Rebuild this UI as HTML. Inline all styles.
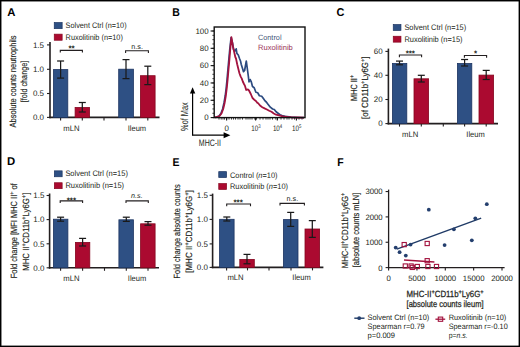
<!DOCTYPE html>
<html><head><meta charset="utf-8"><style>
html,body{margin:0;padding:0;background:#fff;}
body{width:520px;height:347px;overflow:hidden;font-family:"Liberation Sans", sans-serif;}
svg{display:block;}
</style></head><body>
<svg width="520" height="347" viewBox="0 0 520 347" text-rendering="geometricPrecision" font-family='"Liberation Sans", sans-serif'>
<rect x="0" y="0" width="520" height="347" fill="#fff"/>
<text x="7.3" y="16.4" font-size="11.3" fill="#000" textLength="8.2" lengthAdjust="spacingAndGlyphs" font-weight="bold">A</text>
<rect x="54.25" y="22.55" width="7.90" height="6.10" fill="#2e5084" stroke="#1c3461" stroke-width="0.7"/>
<text x="65.6" y="28.0" font-size="8" fill="#231f20" textLength="61" lengthAdjust="spacingAndGlyphs">Solvent Ctrl (n=10)</text>
<rect x="54.25" y="34.15" width="7.90" height="6.10" fill="#ab0a30" stroke="#85061f" stroke-width="0.7"/>
<text x="65.6" y="39.5" font-size="8" fill="#231f20" textLength="57.3" lengthAdjust="spacingAndGlyphs">Ruxolitinib (n=10)</text>
<text transform="translate(16.0,81.5) rotate(-90)" x="0" y="0" font-size="9" fill="#231f20" stroke="#231f20" stroke-width="0.15" text-anchor="middle" textLength="92" lengthAdjust="spacingAndGlyphs">Absolute counts neutrophils</text>
<text transform="translate(26.6,81.5) rotate(-90)" x="0" y="0" font-size="9" fill="#231f20" stroke="#231f20" stroke-width="0.15" text-anchor="middle" textLength="41.5" lengthAdjust="spacingAndGlyphs">[fold change]</text>
<line x1="50" y1="42" x2="50" y2="118.2" stroke="#231f20" stroke-width="1.6"/>
<line x1="49.2" y1="117.4" x2="159.5" y2="117.4" stroke="#231f20" stroke-width="1.6"/>
<line x1="47" y1="44.9" x2="50" y2="44.9" stroke="#231f20" stroke-width="1.1"/>
<text x="44" y="47.75" font-size="8" fill="#231f20" text-anchor="end">1.5</text>
<line x1="47" y1="69.3" x2="50" y2="69.3" stroke="#231f20" stroke-width="1.1"/>
<text x="44" y="72.14999999999999" font-size="8" fill="#231f20" text-anchor="end">1.0</text>
<line x1="47" y1="93.5" x2="50" y2="93.5" stroke="#231f20" stroke-width="1.1"/>
<text x="44" y="96.35" font-size="8" fill="#231f20" text-anchor="end">0.5</text>
<line x1="47" y1="117.4" x2="50" y2="117.4" stroke="#231f20" stroke-width="1.1"/>
<text x="44" y="120.25" font-size="8" fill="#231f20" text-anchor="end">0.0</text>
<line x1="60.6" y1="117.4" x2="60.6" y2="120.4" stroke="#231f20" stroke-width="1.1"/>
<line x1="82.3" y1="117.4" x2="82.3" y2="120.4" stroke="#231f20" stroke-width="1.1"/>
<line x1="104" y1="117.4" x2="104" y2="120.4" stroke="#231f20" stroke-width="1.1"/>
<line x1="126" y1="117.4" x2="126" y2="120.4" stroke="#231f20" stroke-width="1.1"/>
<line x1="147.8" y1="117.4" x2="147.8" y2="120.4" stroke="#231f20" stroke-width="1.1"/>
<rect x="53.40" y="69.60" width="14.40" height="47.80" fill="#2e5084" stroke="#1c3461" stroke-width="0.8"/>
<rect x="75.10" y="107.50" width="14.40" height="9.90" fill="#ab0a30" stroke="#85061f" stroke-width="0.8"/>
<rect x="118.70" y="69.20" width="14.70" height="48.20" fill="#2e5084" stroke="#1c3461" stroke-width="0.8"/>
<rect x="140.40" y="75.70" width="14.70" height="41.70" fill="#ab0a30" stroke="#85061f" stroke-width="0.8"/>
<line x1="60.6" y1="61.0" x2="60.6" y2="78.1" stroke="#1a1a1a" stroke-width="1.25"/>
<line x1="57.1" y1="61.0" x2="64.1" y2="61.0" stroke="#1a1a1a" stroke-width="1.25"/>
<line x1="57.1" y1="78.1" x2="64.1" y2="78.1" stroke="#1a1a1a" stroke-width="1.25"/>
<line x1="82.3" y1="102.5" x2="82.3" y2="112.0" stroke="#1a1a1a" stroke-width="1.25"/>
<line x1="78.8" y1="102.5" x2="85.8" y2="102.5" stroke="#1a1a1a" stroke-width="1.25"/>
<line x1="78.8" y1="112.0" x2="85.8" y2="112.0" stroke="#1a1a1a" stroke-width="1.25"/>
<line x1="126" y1="59.6" x2="126" y2="78.6" stroke="#1a1a1a" stroke-width="1.25"/>
<line x1="122.5" y1="59.6" x2="129.5" y2="59.6" stroke="#1a1a1a" stroke-width="1.25"/>
<line x1="122.5" y1="78.6" x2="129.5" y2="78.6" stroke="#1a1a1a" stroke-width="1.25"/>
<line x1="147.8" y1="66.2" x2="147.8" y2="84.6" stroke="#1a1a1a" stroke-width="1.25"/>
<line x1="144.3" y1="66.2" x2="151.3" y2="66.2" stroke="#1a1a1a" stroke-width="1.25"/>
<line x1="144.3" y1="84.6" x2="151.3" y2="84.6" stroke="#1a1a1a" stroke-width="1.25"/>
<path d="M60.3 52.6 V50.4 H82.4 V52.6" fill="none" stroke="#231f20" stroke-width="1.1"/>
<path d="M125.6 52.900000000000006 V50.7 H148.4 V52.900000000000006" fill="none" stroke="#231f20" stroke-width="1.1"/>
<text x="71.6" y="51.4" font-size="8" fill="#231f20" text-anchor="middle" font-weight="bold">**</text>
<text x="137.1" y="48.8" font-size="7.2" fill="#231f20" text-anchor="middle">n.s.</text>
<text x="71.4" y="130.8" font-size="8" fill="#231f20" text-anchor="middle" textLength="16.2" lengthAdjust="spacingAndGlyphs">mLN</text>
<text x="136.9" y="130.8" font-size="8" fill="#231f20" text-anchor="middle" textLength="18.4" lengthAdjust="spacingAndGlyphs">Ileum</text>
<text x="172.2" y="16.1" font-size="11.3" fill="#000" textLength="7.6" lengthAdjust="spacingAndGlyphs" font-weight="bold">B</text>
<line x1="210.6" y1="117.6" x2="214" y2="117.6" stroke="#111" stroke-width="1.1"/>
<text x="208.6" y="120.39999999999999" font-size="7.9" fill="#231f20" text-anchor="end">0</text>
<line x1="210.6" y1="100.28" x2="214" y2="100.28" stroke="#111" stroke-width="1.1"/>
<text x="208.6" y="103.08" font-size="7.9" fill="#231f20" text-anchor="end">20</text>
<line x1="210.6" y1="82.96" x2="214" y2="82.96" stroke="#111" stroke-width="1.1"/>
<text x="208.6" y="85.75999999999999" font-size="7.9" fill="#231f20" text-anchor="end">40</text>
<line x1="210.6" y1="65.63999999999999" x2="214" y2="65.63999999999999" stroke="#111" stroke-width="1.1"/>
<text x="208.6" y="68.43999999999998" font-size="7.9" fill="#231f20" text-anchor="end">60</text>
<line x1="210.6" y1="48.31999999999999" x2="214" y2="48.31999999999999" stroke="#111" stroke-width="1.1"/>
<text x="208.6" y="51.11999999999999" font-size="7.9" fill="#231f20" text-anchor="end">80</text>
<line x1="210.6" y1="31.0" x2="214" y2="31.0" stroke="#111" stroke-width="1.1"/>
<text x="208.6" y="33.8" font-size="7.9" fill="#231f20" text-anchor="end">100</text>
<line x1="212.4" y1="117.6" x2="214" y2="117.6" stroke="#111" stroke-width="0.8"/>
<line x1="212.4" y1="113.27" x2="214" y2="113.27" stroke="#111" stroke-width="0.8"/>
<line x1="212.4" y1="108.94" x2="214" y2="108.94" stroke="#111" stroke-width="0.8"/>
<line x1="212.4" y1="104.61" x2="214" y2="104.61" stroke="#111" stroke-width="0.8"/>
<line x1="212.4" y1="100.28" x2="214" y2="100.28" stroke="#111" stroke-width="0.8"/>
<line x1="212.4" y1="95.94999999999999" x2="214" y2="95.94999999999999" stroke="#111" stroke-width="0.8"/>
<line x1="212.4" y1="91.61999999999999" x2="214" y2="91.61999999999999" stroke="#111" stroke-width="0.8"/>
<line x1="212.4" y1="87.28999999999999" x2="214" y2="87.28999999999999" stroke="#111" stroke-width="0.8"/>
<line x1="212.4" y1="82.96" x2="214" y2="82.96" stroke="#111" stroke-width="0.8"/>
<line x1="212.4" y1="78.63" x2="214" y2="78.63" stroke="#111" stroke-width="0.8"/>
<line x1="212.4" y1="74.3" x2="214" y2="74.3" stroke="#111" stroke-width="0.8"/>
<line x1="212.4" y1="69.97" x2="214" y2="69.97" stroke="#111" stroke-width="0.8"/>
<line x1="212.4" y1="65.63999999999999" x2="214" y2="65.63999999999999" stroke="#111" stroke-width="0.8"/>
<line x1="212.4" y1="61.309999999999995" x2="214" y2="61.309999999999995" stroke="#111" stroke-width="0.8"/>
<line x1="212.4" y1="56.98" x2="214" y2="56.98" stroke="#111" stroke-width="0.8"/>
<line x1="212.4" y1="52.64999999999999" x2="214" y2="52.64999999999999" stroke="#111" stroke-width="0.8"/>
<line x1="212.4" y1="48.31999999999999" x2="214" y2="48.31999999999999" stroke="#111" stroke-width="0.8"/>
<line x1="212.4" y1="43.989999999999995" x2="214" y2="43.989999999999995" stroke="#111" stroke-width="0.8"/>
<line x1="212.4" y1="39.66" x2="214" y2="39.66" stroke="#111" stroke-width="0.8"/>
<line x1="212.4" y1="35.33" x2="214" y2="35.33" stroke="#111" stroke-width="0.8"/>
<line x1="212.4" y1="31.0" x2="214" y2="31.0" stroke="#111" stroke-width="0.8"/>
<line x1="219" y1="117.6" x2="219" y2="119.6" stroke="#111" stroke-width="0.8"/>
<line x1="221.2" y1="117.6" x2="221.2" y2="119.6" stroke="#111" stroke-width="0.8"/>
<line x1="223" y1="117.6" x2="223" y2="119.6" stroke="#111" stroke-width="0.8"/>
<line x1="224.5" y1="117.6" x2="224.5" y2="119.6" stroke="#111" stroke-width="0.8"/>
<line x1="226.7" y1="117.6" x2="226.7" y2="119.6" stroke="#111" stroke-width="0.8"/>
<line x1="229" y1="117.6" x2="229" y2="119.6" stroke="#111" stroke-width="0.8"/>
<line x1="231.5" y1="117.6" x2="231.5" y2="119.6" stroke="#111" stroke-width="0.8"/>
<line x1="233.5" y1="117.6" x2="233.5" y2="119.6" stroke="#111" stroke-width="0.8"/>
<line x1="235.5" y1="117.6" x2="235.5" y2="119.6" stroke="#111" stroke-width="0.8"/>
<line x1="238" y1="117.6" x2="238" y2="119.6" stroke="#111" stroke-width="0.8"/>
<line x1="240" y1="117.6" x2="240" y2="119.6" stroke="#111" stroke-width="0.8"/>
<line x1="242.5" y1="117.6" x2="242.5" y2="119.6" stroke="#111" stroke-width="0.8"/>
<line x1="246" y1="117.6" x2="246" y2="119.6" stroke="#111" stroke-width="0.8"/>
<line x1="248" y1="117.6" x2="248" y2="119.6" stroke="#111" stroke-width="0.8"/>
<line x1="250" y1="117.6" x2="250" y2="119.6" stroke="#111" stroke-width="0.8"/>
<line x1="252" y1="117.6" x2="252" y2="119.6" stroke="#111" stroke-width="0.8"/>
<line x1="254.8" y1="117.6" x2="254.8" y2="119.6" stroke="#111" stroke-width="0.8"/>
<line x1="256.5" y1="117.6" x2="256.5" y2="119.6" stroke="#111" stroke-width="0.8"/>
<line x1="260" y1="117.6" x2="260" y2="119.6" stroke="#111" stroke-width="0.8"/>
<line x1="263" y1="117.6" x2="263" y2="119.6" stroke="#111" stroke-width="0.8"/>
<line x1="266" y1="117.6" x2="266" y2="119.6" stroke="#111" stroke-width="0.8"/>
<line x1="268" y1="117.6" x2="268" y2="119.6" stroke="#111" stroke-width="0.8"/>
<line x1="270" y1="117.6" x2="270" y2="119.6" stroke="#111" stroke-width="0.8"/>
<line x1="272.5" y1="117.6" x2="272.5" y2="119.6" stroke="#111" stroke-width="0.8"/>
<line x1="275.8" y1="117.6" x2="275.8" y2="119.6" stroke="#111" stroke-width="0.8"/>
<line x1="277.5" y1="117.6" x2="277.5" y2="119.6" stroke="#111" stroke-width="0.8"/>
<line x1="281" y1="117.6" x2="281" y2="119.6" stroke="#111" stroke-width="0.8"/>
<line x1="284" y1="117.6" x2="284" y2="119.6" stroke="#111" stroke-width="0.8"/>
<line x1="287" y1="117.6" x2="287" y2="119.6" stroke="#111" stroke-width="0.8"/>
<line x1="289" y1="117.6" x2="289" y2="119.6" stroke="#111" stroke-width="0.8"/>
<line x1="292" y1="117.6" x2="292" y2="119.6" stroke="#111" stroke-width="0.8"/>
<line x1="294.5" y1="117.6" x2="294.5" y2="119.6" stroke="#111" stroke-width="0.8"/>
<line x1="296.5" y1="117.6" x2="296.5" y2="119.6" stroke="#111" stroke-width="0.8"/>
<line x1="299" y1="117.6" x2="299" y2="119.6" stroke="#111" stroke-width="0.8"/>
<line x1="302" y1="117.6" x2="302" y2="119.6" stroke="#111" stroke-width="0.8"/>
<line x1="226.6" y1="117.6" x2="226.6" y2="120.6" stroke="#111" stroke-width="1.1"/>
<line x1="255.6" y1="117.6" x2="255.6" y2="120.6" stroke="#111" stroke-width="1.1"/>
<line x1="277.3" y1="117.6" x2="277.3" y2="120.6" stroke="#111" stroke-width="1.1"/>
<line x1="296.4" y1="117.6" x2="296.4" y2="120.6" stroke="#111" stroke-width="1.1"/>
<text x="226.6" y="130.6" font-size="7.9" fill="#231f20" text-anchor="middle">0</text>
<text x="251.2" y="130.6" font-size="7.9" fill="#231f20" textLength="9.3" lengthAdjust="spacingAndGlyphs">10<tspan font-size="5.4" dy="-2.8">3</tspan></text>
<text x="272.90000000000003" y="130.6" font-size="7.9" fill="#231f20" textLength="9.3" lengthAdjust="spacingAndGlyphs">10<tspan font-size="5.4" dy="-2.8">4</tspan></text>
<text x="292.0" y="130.6" font-size="7.9" fill="#231f20" textLength="9.3" lengthAdjust="spacingAndGlyphs">10<tspan font-size="5.4" dy="-2.8">5</tspan></text>
<line x1="192.6" y1="92" x2="192.6" y2="135.2" stroke="#000" stroke-width="1.2"/>
<line x1="192.0" y1="135.2" x2="226" y2="135.2" stroke="#000" stroke-width="1.2"/>
<path d="M192.6 87.2 L189.9 93.6 L195.3 93.6 Z" fill="#000"/>
<path d="M230.4 135.2 L223.6 132.2 L223.6 138.2 Z" fill="#000"/>
<text transform="translate(188.4,116.6) rotate(-90)" x="0" y="0" font-size="10.4" fill="#231f20" stroke="#231f20" stroke-width="0" text-anchor="middle" textLength="28.6" lengthAdjust="spacingAndGlyphs">%of Max</text>
<text x="198.8" y="146.0" font-size="9.4" fill="#231f20" textLength="22.2" lengthAdjust="spacingAndGlyphs">MHC-II</text>
<text x="258" y="39.8" font-size="7.6" fill="#44557a" textLength="23.5" lengthAdjust="spacingAndGlyphs">Control</text>
<text x="258" y="50.4" font-size="7.6" fill="#9a3459" textLength="34.8" lengthAdjust="spacingAndGlyphs">Ruxolitinib</text>
<polyline points="214.6,117.3 216.6,117 219,116 220.9,113.5 222.6,109 224,103 225.2,96 226.2,88 227,80 227.7,72 228.6,62 229.7,50 231.1,37.6 232.5,43 233.6,49.5 235,51 236.2,48.8 236.9,53.4 238.3,55 239.5,58.5 240.6,61.3 241.2,64.2 242.3,67.7 243.5,71.7 244.6,70.5 246.3,61 247.5,70 248.3,76 249,81.9 250.2,79.6 251.3,81.9 252.5,86.5 254.2,87.7 255.9,92.3 257.7,92.8 259.4,95.7 261.7,96.3 263.4,98.6 265.1,100.9 266.3,102 268,104.3 270.3,107.2 272.6,109 274.3,109.5 276.1,111.8 278.4,113.5 280,114.7 282,115.6 285,116.3 291,117.2 298,117.5 304,117.6" fill="none" stroke="#2c4a80" stroke-width="1.7" stroke-linejoin="round"/>
<polyline points="214.8,117.3 217,117 219.5,116 221.5,113.5 223.2,109 224.6,103 225.8,96 226.8,88 227.6,80 228.3,72 229.2,62 230.2,50 231.4,37.2 232.2,42 233,46.9 234.3,52.5 235.3,57 236,58.5 237.2,64.2 238.3,68.8 239.5,73.5 240.6,76.3 241.8,78.6 242.8,81.5 244,84 245,85.9 246.2,90 247.9,89.4 249,90.5 250.8,94 252.5,98 254.2,99.7 255.9,100.9 257.1,102.6 258.2,103.2 260,105.5 262.3,107.2 264.6,108.4 266.9,109.5 269.2,110.7 271.5,111.8 273.8,113.5 276.1,114.7 279,115.4 283,116.3 287,116.9 292,117.3 298,117.5 304,117.6" fill="none" stroke="#a3123e" stroke-width="1.8" stroke-linejoin="round"/>
<rect x="214.2" y="27" width="90.8" height="90.6" fill="none" stroke="#111" stroke-width="1.4"/>
<text x="336.5" y="16.2" font-size="11.3" fill="#000" textLength="7.9" lengthAdjust="spacingAndGlyphs" font-weight="bold">C</text>
<rect x="393.25" y="24.55" width="7.70" height="5.90" fill="#2e5084" stroke="#1c3461" stroke-width="0.7"/>
<text x="404.4" y="29.6" font-size="8" fill="#231f20" textLength="61.8" lengthAdjust="spacingAndGlyphs">Solvent Ctrl (n=15)</text>
<rect x="393.25" y="36.25" width="7.70" height="5.90" fill="#ab0a30" stroke="#85061f" stroke-width="0.7"/>
<text x="404.4" y="41.7" font-size="8" fill="#231f20" textLength="58.2" lengthAdjust="spacingAndGlyphs">Ruxolitinib (n=15)</text>
<text transform="translate(357.0,88.0) rotate(-90)" x="0" y="0" font-size="9" fill="#231f20" stroke="#231f20" stroke-width="0.15" text-anchor="middle" textLength="26" lengthAdjust="spacingAndGlyphs">MHC II<tspan baseline-shift="super" font-size="6.5">+</tspan></text>
<text transform="translate(367.9,87.7) rotate(-90)" x="0" y="0" font-size="9" fill="#231f20" stroke="#231f20" stroke-width="0.15" text-anchor="middle" textLength="62.5" lengthAdjust="spacingAndGlyphs">[of CD11b<tspan baseline-shift="super" font-size="6.5">+</tspan>Ly6G<tspan baseline-shift="super" font-size="6.5">+</tspan>]</text>
<line x1="388.4" y1="48.6" x2="388.4" y2="124.39999999999999" stroke="#231f20" stroke-width="1.6"/>
<line x1="387.59999999999997" y1="123.6" x2="498" y2="123.6" stroke="#231f20" stroke-width="1.6"/>
<line x1="385.4" y1="51.4" x2="388.4" y2="51.4" stroke="#231f20" stroke-width="1.1"/>
<text x="382.6" y="54.25" font-size="8" fill="#231f20" text-anchor="end">60</text>
<line x1="385.4" y1="75.3" x2="388.4" y2="75.3" stroke="#231f20" stroke-width="1.1"/>
<text x="382.6" y="78.14999999999999" font-size="8" fill="#231f20" text-anchor="end">40</text>
<line x1="385.4" y1="99.5" x2="388.4" y2="99.5" stroke="#231f20" stroke-width="1.1"/>
<text x="382.6" y="102.35" font-size="8" fill="#231f20" text-anchor="end">20</text>
<line x1="385.4" y1="123.6" x2="388.4" y2="123.6" stroke="#231f20" stroke-width="1.1"/>
<text x="382.6" y="126.44999999999999" font-size="8" fill="#231f20" text-anchor="end">0</text>
<line x1="399.5" y1="123.6" x2="399.5" y2="126.6" stroke="#231f20" stroke-width="1.1"/>
<line x1="421.3" y1="123.6" x2="421.3" y2="126.6" stroke="#231f20" stroke-width="1.1"/>
<line x1="443.3" y1="123.6" x2="443.3" y2="126.6" stroke="#231f20" stroke-width="1.1"/>
<line x1="464.6" y1="123.6" x2="464.6" y2="126.6" stroke="#231f20" stroke-width="1.1"/>
<line x1="486.2" y1="123.6" x2="486.2" y2="126.6" stroke="#231f20" stroke-width="1.1"/>
<rect x="392.40" y="63.50" width="14.40" height="60.10" fill="#2e5084" stroke="#1c3461" stroke-width="0.8"/>
<rect x="414.00" y="78.80" width="14.60" height="44.80" fill="#ab0a30" stroke="#85061f" stroke-width="0.8"/>
<rect x="457.40" y="63.50" width="14.40" height="60.10" fill="#2e5084" stroke="#1c3461" stroke-width="0.8"/>
<rect x="479.00" y="75.10" width="14.60" height="48.50" fill="#ab0a30" stroke="#85061f" stroke-width="0.8"/>
<line x1="399.5" y1="61.1" x2="399.5" y2="64.8" stroke="#1a1a1a" stroke-width="1.25"/>
<line x1="396.0" y1="61.1" x2="403.0" y2="61.1" stroke="#1a1a1a" stroke-width="1.25"/>
<line x1="396.0" y1="64.8" x2="403.0" y2="64.8" stroke="#1a1a1a" stroke-width="1.25"/>
<line x1="421.3" y1="75.3" x2="421.3" y2="82" stroke="#1a1a1a" stroke-width="1.25"/>
<line x1="417.8" y1="75.3" x2="424.8" y2="75.3" stroke="#1a1a1a" stroke-width="1.25"/>
<line x1="417.8" y1="82" x2="424.8" y2="82" stroke="#1a1a1a" stroke-width="1.25"/>
<line x1="464.6" y1="59.5" x2="464.6" y2="66" stroke="#1a1a1a" stroke-width="1.25"/>
<line x1="461.1" y1="59.5" x2="468.1" y2="59.5" stroke="#1a1a1a" stroke-width="1.25"/>
<line x1="461.1" y1="66" x2="468.1" y2="66" stroke="#1a1a1a" stroke-width="1.25"/>
<line x1="486.2" y1="70.4" x2="486.2" y2="79.5" stroke="#1a1a1a" stroke-width="1.25"/>
<line x1="482.7" y1="70.4" x2="489.7" y2="70.4" stroke="#1a1a1a" stroke-width="1.25"/>
<line x1="482.7" y1="79.5" x2="489.7" y2="79.5" stroke="#1a1a1a" stroke-width="1.25"/>
<path d="M399.4 57.2 V55.0 H421.6 V57.2" fill="none" stroke="#231f20" stroke-width="1.1"/>
<path d="M464.4 57.7 V55.5 H486.6 V57.7" fill="none" stroke="#231f20" stroke-width="1.1"/>
<text x="410.3" y="55.9" font-size="8" fill="#231f20" text-anchor="middle" font-weight="bold">***</text>
<text x="475.5" y="56.4" font-size="8" fill="#231f20" text-anchor="middle" font-weight="bold">*</text>
<text x="410.1" y="137.4" font-size="8" fill="#231f20" text-anchor="middle" textLength="16.2" lengthAdjust="spacingAndGlyphs">mLN</text>
<text x="475.5" y="137.3" font-size="8" fill="#231f20" text-anchor="middle" textLength="18.4" lengthAdjust="spacingAndGlyphs">Ileum</text>
<text x="7.0" y="164.6" font-size="11.3" fill="#000" textLength="8.2" lengthAdjust="spacingAndGlyphs" font-weight="bold">D</text>
<rect x="54.35" y="170.85" width="7.80" height="5.90" fill="#2e5084" stroke="#1c3461" stroke-width="0.7"/>
<text x="65.4" y="176.4" font-size="8" fill="#231f20" textLength="62.5" lengthAdjust="spacingAndGlyphs">Solvent Ctrl (n=15)</text>
<rect x="54.35" y="182.75" width="7.80" height="5.90" fill="#ab0a30" stroke="#85061f" stroke-width="0.7"/>
<text x="65.4" y="188.3" font-size="8" fill="#231f20" textLength="58.7" lengthAdjust="spacingAndGlyphs">Ruxolitinib (n=15)</text>
<text transform="translate(17.3,230.8) rotate(-90)" x="0" y="0" font-size="9" fill="#231f20" stroke="#231f20" stroke-width="0.15" text-anchor="middle" textLength="95" lengthAdjust="spacingAndGlyphs">Fold change [MFI MHC II<tspan baseline-shift="super" font-size="6.5">+</tspan> of</text>
<text transform="translate(28.9,231.7) rotate(-90)" x="0" y="0" font-size="9" fill="#231f20" stroke="#231f20" stroke-width="0.15" text-anchor="middle" textLength="78" lengthAdjust="spacingAndGlyphs">MHC II<tspan baseline-shift="super" font-size="6.5">+</tspan>CD11b<tspan baseline-shift="super" font-size="6.5">+</tspan>Ly6G<tspan baseline-shift="super" font-size="6.5">+</tspan>]</text>
<line x1="49.6" y1="193.5" x2="49.6" y2="268.6" stroke="#231f20" stroke-width="1.6"/>
<line x1="48.800000000000004" y1="267.8" x2="159" y2="267.8" stroke="#231f20" stroke-width="1.6"/>
<line x1="46.6" y1="195.5" x2="49.6" y2="195.5" stroke="#231f20" stroke-width="1.1"/>
<text x="44.4" y="198.35" font-size="8" fill="#231f20" text-anchor="end">1.5</text>
<line x1="46.6" y1="219.6" x2="49.6" y2="219.6" stroke="#231f20" stroke-width="1.1"/>
<text x="44.4" y="222.45" font-size="8" fill="#231f20" text-anchor="end">1.0</text>
<line x1="46.6" y1="243.8" x2="49.6" y2="243.8" stroke="#231f20" stroke-width="1.1"/>
<text x="44.4" y="246.65" font-size="8" fill="#231f20" text-anchor="end">0.5</text>
<line x1="46.6" y1="267.8" x2="49.6" y2="267.8" stroke="#231f20" stroke-width="1.1"/>
<text x="44.4" y="270.65000000000003" font-size="8" fill="#231f20" text-anchor="end">0.0</text>
<line x1="60.6" y1="267.8" x2="60.6" y2="270.8" stroke="#231f20" stroke-width="1.1"/>
<line x1="82.6" y1="267.8" x2="82.6" y2="270.8" stroke="#231f20" stroke-width="1.1"/>
<line x1="104.5" y1="267.8" x2="104.5" y2="270.8" stroke="#231f20" stroke-width="1.1"/>
<line x1="126.3" y1="267.8" x2="126.3" y2="270.8" stroke="#231f20" stroke-width="1.1"/>
<line x1="148" y1="267.8" x2="148" y2="270.8" stroke="#231f20" stroke-width="1.1"/>
<rect x="53.40" y="219.20" width="14.50" height="48.60" fill="#2e5084" stroke="#1c3461" stroke-width="0.8"/>
<rect x="75.40" y="242.40" width="14.40" height="25.40" fill="#ab0a30" stroke="#85061f" stroke-width="0.8"/>
<rect x="118.90" y="219.80" width="14.50" height="48.00" fill="#2e5084" stroke="#1c3461" stroke-width="0.8"/>
<rect x="140.60" y="223.80" width="14.50" height="44.00" fill="#ab0a30" stroke="#85061f" stroke-width="0.8"/>
<line x1="60.6" y1="217.2" x2="60.6" y2="221.2" stroke="#1a1a1a" stroke-width="1.25"/>
<line x1="57.1" y1="217.2" x2="64.1" y2="217.2" stroke="#1a1a1a" stroke-width="1.25"/>
<line x1="57.1" y1="221.2" x2="64.1" y2="221.2" stroke="#1a1a1a" stroke-width="1.25"/>
<line x1="82.6" y1="238.4" x2="82.6" y2="246" stroke="#1a1a1a" stroke-width="1.25"/>
<line x1="79.1" y1="238.4" x2="86.1" y2="238.4" stroke="#1a1a1a" stroke-width="1.25"/>
<line x1="79.1" y1="246" x2="86.1" y2="246" stroke="#1a1a1a" stroke-width="1.25"/>
<line x1="126.3" y1="217.2" x2="126.3" y2="221.4" stroke="#1a1a1a" stroke-width="1.25"/>
<line x1="122.8" y1="217.2" x2="129.8" y2="217.2" stroke="#1a1a1a" stroke-width="1.25"/>
<line x1="122.8" y1="221.4" x2="129.8" y2="221.4" stroke="#1a1a1a" stroke-width="1.25"/>
<line x1="148" y1="221.6" x2="148" y2="225.2" stroke="#1a1a1a" stroke-width="1.25"/>
<line x1="144.5" y1="221.6" x2="151.5" y2="221.6" stroke="#1a1a1a" stroke-width="1.25"/>
<line x1="144.5" y1="225.2" x2="151.5" y2="225.2" stroke="#1a1a1a" stroke-width="1.25"/>
<path d="M60.2 203.1 V200.9 H82.6 V203.1" fill="none" stroke="#231f20" stroke-width="1.1"/>
<path d="M126.0 203.1 V200.9 H148.3 V203.1" fill="none" stroke="#231f20" stroke-width="1.1"/>
<text x="71.4" y="203.0" font-size="8" fill="#231f20" text-anchor="middle" font-weight="bold">***</text>
<text x="136.9" y="198" font-size="7.2" fill="#231f20" text-anchor="middle" font-style="italic">n.s.</text>
<text x="71.4" y="280.7" font-size="8" fill="#231f20" text-anchor="middle" textLength="16.2" lengthAdjust="spacingAndGlyphs">mLN</text>
<text x="137" y="280.7" font-size="8" fill="#231f20" text-anchor="middle" textLength="18.4" lengthAdjust="spacingAndGlyphs">Ileum</text>
<text x="172.5" y="165.5" font-size="11.3" fill="#000" textLength="7.0" lengthAdjust="spacingAndGlyphs" font-weight="bold">E</text>
<rect x="218.75" y="171.65" width="7.80" height="5.90" fill="#2e5084" stroke="#1c3461" stroke-width="0.7"/>
<text x="230" y="177.5" font-size="8" fill="#231f20" textLength="47.5" lengthAdjust="spacingAndGlyphs">Control (<tspan font-style="italic">n</tspan>=10)</text>
<rect x="218.75" y="183.55" width="7.80" height="5.90" fill="#ab0a30" stroke="#85061f" stroke-width="0.7"/>
<text x="230" y="189.4" font-size="8" fill="#231f20" textLength="58" lengthAdjust="spacingAndGlyphs">Ruxolitinib (<tspan font-style="italic">n</tspan>=10)</text>
<text transform="translate(180.0,231.4) rotate(-90)" x="0" y="0" font-size="9" fill="#231f20" stroke="#231f20" stroke-width="0.15" text-anchor="middle" textLength="94" lengthAdjust="spacingAndGlyphs">Fold change absolute counts</text>
<text transform="translate(191.6,231.5) rotate(-90)" x="0" y="0" font-size="9" fill="#231f20" stroke="#231f20" stroke-width="0.15" text-anchor="middle" textLength="82.5" lengthAdjust="spacingAndGlyphs">[MHC II<tspan baseline-shift="super" font-size="6.5">+</tspan>CD11b<tspan baseline-shift="super" font-size="6.5">+</tspan>Ly6G<tspan baseline-shift="super" font-size="6.5">+</tspan>]</text>
<line x1="212.6" y1="193.6" x2="212.6" y2="268.2" stroke="#231f20" stroke-width="1.6"/>
<line x1="211.79999999999998" y1="267.4" x2="323.4" y2="267.4" stroke="#231f20" stroke-width="1.6"/>
<line x1="209.6" y1="195.3" x2="212.6" y2="195.3" stroke="#231f20" stroke-width="1.1"/>
<text x="207.9" y="198.15" font-size="8" fill="#231f20" text-anchor="end">1.5</text>
<line x1="209.6" y1="219.4" x2="212.6" y2="219.4" stroke="#231f20" stroke-width="1.1"/>
<text x="207.9" y="222.25" font-size="8" fill="#231f20" text-anchor="end">1.0</text>
<line x1="209.6" y1="243.9" x2="212.6" y2="243.9" stroke="#231f20" stroke-width="1.1"/>
<text x="207.9" y="246.75" font-size="8" fill="#231f20" text-anchor="end">0.5</text>
<line x1="209.6" y1="267.4" x2="212.6" y2="267.4" stroke="#231f20" stroke-width="1.1"/>
<text x="207.9" y="270.25" font-size="8" fill="#231f20" text-anchor="end">0.0</text>
<line x1="226.6" y1="267.4" x2="226.6" y2="270.4" stroke="#231f20" stroke-width="1.1"/>
<line x1="247.5" y1="267.4" x2="247.5" y2="270.4" stroke="#231f20" stroke-width="1.1"/>
<line x1="269" y1="267.4" x2="269" y2="270.4" stroke="#231f20" stroke-width="1.1"/>
<line x1="291" y1="267.4" x2="291" y2="270.4" stroke="#231f20" stroke-width="1.1"/>
<line x1="312.5" y1="267.4" x2="312.5" y2="270.4" stroke="#231f20" stroke-width="1.1"/>
<rect x="219.60" y="219.30" width="14.50" height="48.10" fill="#2e5084" stroke="#1c3461" stroke-width="0.8"/>
<rect x="239.80" y="259.40" width="14.50" height="8.00" fill="#ab0a30" stroke="#85061f" stroke-width="0.8"/>
<rect x="283.40" y="219.60" width="14.60" height="47.80" fill="#2e5084" stroke="#1c3461" stroke-width="0.8"/>
<rect x="305.00" y="229.00" width="14.60" height="38.40" fill="#ab0a30" stroke="#85061f" stroke-width="0.8"/>
<line x1="226.8" y1="217" x2="226.8" y2="221" stroke="#1a1a1a" stroke-width="1.25"/>
<line x1="223.3" y1="217" x2="230.3" y2="217" stroke="#1a1a1a" stroke-width="1.25"/>
<line x1="223.3" y1="221" x2="230.3" y2="221" stroke="#1a1a1a" stroke-width="1.25"/>
<line x1="247" y1="254.4" x2="247" y2="263.8" stroke="#1a1a1a" stroke-width="1.25"/>
<line x1="243.5" y1="254.4" x2="250.5" y2="254.4" stroke="#1a1a1a" stroke-width="1.25"/>
<line x1="243.5" y1="263.8" x2="250.5" y2="263.8" stroke="#1a1a1a" stroke-width="1.25"/>
<line x1="290.7" y1="212.4" x2="290.7" y2="226.4" stroke="#1a1a1a" stroke-width="1.25"/>
<line x1="287.2" y1="212.4" x2="294.2" y2="212.4" stroke="#1a1a1a" stroke-width="1.25"/>
<line x1="287.2" y1="226.4" x2="294.2" y2="226.4" stroke="#1a1a1a" stroke-width="1.25"/>
<line x1="312.3" y1="220.6" x2="312.3" y2="237.4" stroke="#1a1a1a" stroke-width="1.25"/>
<line x1="308.8" y1="220.6" x2="315.8" y2="220.6" stroke="#1a1a1a" stroke-width="1.25"/>
<line x1="308.8" y1="237.4" x2="315.8" y2="237.4" stroke="#1a1a1a" stroke-width="1.25"/>
<path d="M226.7 206.2 V204 H250.5 V206.2" fill="none" stroke="#231f20" stroke-width="1.1"/>
<path d="M280.0 205.6 V203.4 H304.4 V205.6" fill="none" stroke="#231f20" stroke-width="1.1"/>
<text x="238.1" y="204.8" font-size="8" fill="#231f20" text-anchor="middle" font-weight="bold">***</text>
<text x="292.4" y="201.1" font-size="7.2" fill="#231f20" text-anchor="middle">n.s.</text>
<text x="235.5" y="280.3" font-size="8" fill="#231f20" text-anchor="middle" textLength="16.2" lengthAdjust="spacingAndGlyphs">mLN</text>
<text x="301.5" y="280.3" font-size="8" fill="#231f20" text-anchor="middle" textLength="18.4" lengthAdjust="spacingAndGlyphs">Ileum</text>
<text x="337.2" y="165.5" font-size="11.3" fill="#000" textLength="6.4" lengthAdjust="spacingAndGlyphs" font-weight="bold">F</text>
<line x1="388.6" y1="189.6" x2="388.6" y2="268.20000000000005" stroke="#231f20" stroke-width="1.3"/>
<line x1="388.0" y1="267.6" x2="504.6" y2="267.6" stroke="#231f20" stroke-width="1.3"/>
<line x1="385.6" y1="267.6" x2="388.6" y2="267.6" stroke="#231f20" stroke-width="1.1"/>
<text x="382.6" y="270.5" font-size="7.8" fill="#231f20" text-anchor="end" textLength="4.3" lengthAdjust="spacingAndGlyphs">0</text>
<line x1="385.6" y1="242.25000000000003" x2="388.6" y2="242.25000000000003" stroke="#231f20" stroke-width="1.1"/>
<text x="382.6" y="245.15000000000003" font-size="7.8" fill="#231f20" text-anchor="end" textLength="17.2" lengthAdjust="spacingAndGlyphs">1000</text>
<line x1="385.6" y1="216.90000000000003" x2="388.6" y2="216.90000000000003" stroke="#231f20" stroke-width="1.1"/>
<text x="382.6" y="219.80000000000004" font-size="7.8" fill="#231f20" text-anchor="end" textLength="17.2" lengthAdjust="spacingAndGlyphs">2000</text>
<line x1="385.6" y1="191.55" x2="388.6" y2="191.55" stroke="#231f20" stroke-width="1.1"/>
<text x="382.6" y="194.45000000000002" font-size="7.8" fill="#231f20" text-anchor="end" textLength="17.2" lengthAdjust="spacingAndGlyphs">3000</text>
<line x1="388.6" y1="267.6" x2="388.6" y2="270.6" stroke="#231f20" stroke-width="1.1"/>
<text x="388.6" y="281.0" font-size="7.8" fill="#231f20" text-anchor="middle">0</text>
<line x1="416.95000000000005" y1="267.6" x2="416.95000000000005" y2="270.6" stroke="#231f20" stroke-width="1.1"/>
<text x="416.95000000000005" y="281.0" font-size="7.8" fill="#231f20" text-anchor="middle">5000</text>
<line x1="445.3" y1="267.6" x2="445.3" y2="270.6" stroke="#231f20" stroke-width="1.1"/>
<text x="445.3" y="281.0" font-size="7.8" fill="#231f20" text-anchor="middle">10000</text>
<line x1="473.65000000000003" y1="267.6" x2="473.65000000000003" y2="270.6" stroke="#231f20" stroke-width="1.1"/>
<text x="473.65000000000003" y="281.0" font-size="7.8" fill="#231f20" text-anchor="middle">15000</text>
<line x1="502.0" y1="267.6" x2="502.0" y2="270.6" stroke="#231f20" stroke-width="1.1"/>
<text x="502.0" y="281.0" font-size="7.8" fill="#231f20" text-anchor="middle">20000</text>
<text transform="translate(348.2,230.5) rotate(-90)" x="0" y="0" font-size="9" fill="#231f20" stroke="#231f20" stroke-width="0.15" text-anchor="middle" textLength="75.5" lengthAdjust="spacingAndGlyphs">MHC-II<tspan baseline-shift="super" font-size="6.5">+</tspan>CD11b<tspan baseline-shift="super" font-size="6.5">+</tspan>Ly6G<tspan baseline-shift="super" font-size="6.5">+</tspan></text>
<text transform="translate(359.4,230.0) rotate(-90)" x="0" y="0" font-size="9" fill="#231f20" stroke="#231f20" stroke-width="0.15" text-anchor="middle" textLength="74.5" lengthAdjust="spacingAndGlyphs">[absolute counts mLN]</text>
<line x1="396.8" y1="249.2" x2="481.2" y2="218.1" stroke="#1f3a66" stroke-width="1.4"/>
<line x1="404" y1="260" x2="434.4" y2="262" stroke="#a3123e" stroke-width="1.3"/>
<circle cx="395.7" cy="247.6" r="1.9" fill="#243f6e"/>
<circle cx="399.6" cy="252.2" r="1.9" fill="#243f6e"/>
<circle cx="405.8" cy="255.6" r="1.9" fill="#243f6e"/>
<circle cx="410.6" cy="244.6" r="1.9" fill="#243f6e"/>
<circle cx="428.8" cy="209.7" r="1.9" fill="#243f6e"/>
<circle cx="444.6" cy="245.1" r="1.9" fill="#243f6e"/>
<circle cx="453.9" cy="229.3" r="1.9" fill="#243f6e"/>
<circle cx="471.8" cy="240.3" r="1.9" fill="#243f6e"/>
<circle cx="475.3" cy="218.3" r="1.9" fill="#243f6e"/>
<circle cx="486.8" cy="204.2" r="1.9" fill="#243f6e"/>
<rect x="402.09999999999997" y="242.5" width="4.2" height="4.2" fill="none" stroke="#a3123e" stroke-width="1.1"/>
<rect x="425.09999999999997" y="241.4" width="4.2" height="4.2" fill="none" stroke="#a3123e" stroke-width="1.1"/>
<rect x="403.2" y="263.9" width="4.2" height="4.2" fill="none" stroke="#a3123e" stroke-width="1.1"/>
<rect x="409.0" y="263.9" width="4.2" height="4.2" fill="none" stroke="#a3123e" stroke-width="1.1"/>
<rect x="410.2" y="265.29999999999995" width="4.2" height="4.2" fill="none" stroke="#a3123e" stroke-width="1.1"/>
<rect x="415.2" y="264.4" width="4.2" height="4.2" fill="none" stroke="#a3123e" stroke-width="1.1"/>
<rect x="425.09999999999997" y="258.59999999999997" width="4.2" height="4.2" fill="none" stroke="#a3123e" stroke-width="1.1"/>
<rect x="425.79999999999995" y="264.4" width="4.2" height="4.2" fill="none" stroke="#a3123e" stroke-width="1.1"/>
<rect x="434.4" y="264.4" width="4.2" height="4.2" fill="none" stroke="#a3123e" stroke-width="1.1"/>
<text x="406.6" y="296.6" font-size="9" fill="#231f20" stroke="#231f20" stroke-width="0.25" textLength="77" lengthAdjust="spacingAndGlyphs">MHC-II<tspan baseline-shift="super" font-size="6.5">+</tspan>CD11b<tspan baseline-shift="super" font-size="6.5">+</tspan>Ly6G<tspan baseline-shift="super" font-size="6.5">+</tspan></text>
<text x="406.6" y="307.4" font-size="9" fill="#231f20" textLength="77" lengthAdjust="spacingAndGlyphs" stroke="#231f20" stroke-width="0.25">[absolute counts ileum]</text>
<line x1="354.3" y1="318.2" x2="364.5" y2="318.2" stroke="#1f3a66" stroke-width="1.4"/>
<circle cx="359.2" cy="318.2" r="1.9" fill="#243f6e"/>
<text x="367.6" y="320.4" font-size="7.8" fill="#231f20" textLength="61.6" lengthAdjust="spacingAndGlyphs">Solvent Ctrl (n=10)</text>
<text x="367.6" y="329.3" font-size="7.8" fill="#231f20" textLength="57" lengthAdjust="spacingAndGlyphs">Spearman r=0.79</text>
<text x="367.6" y="337.9" font-size="7.8" fill="#231f20" textLength="27.4" lengthAdjust="spacingAndGlyphs">p=0.009</text>
<line x1="435.4" y1="319.2" x2="445.2" y2="319.2" stroke="#a3123e" stroke-width="1.3"/>
<rect x="438.3" y="317.1" width="4.4" height="4.2" fill="none" stroke="#a3123e" stroke-width="1.1"/>
<text x="448.7" y="320.4" font-size="7.8" fill="#231f20" textLength="57.6" lengthAdjust="spacingAndGlyphs">Ruxolitinib (n=10)</text>
<text x="448.7" y="329.3" font-size="7.8" fill="#231f20" textLength="59" lengthAdjust="spacingAndGlyphs">Spearman r=-0.10</text>
<text x="448.7" y="337.9" font-size="7.8" fill="#231f20" textLength="19" lengthAdjust="spacingAndGlyphs">p=<tspan font-style="italic">n.s.</tspan></text>
<rect x="0" y="0" width="520" height="1.45" fill="#000"/>
<rect x="0" y="0" width="1.45" height="347" fill="#000"/>
<rect x="518.6" y="0" width="1.4" height="347" fill="#000"/>
<rect x="0" y="345.6" width="520" height="1.4" fill="#000"/>
</svg>
</body></html>
